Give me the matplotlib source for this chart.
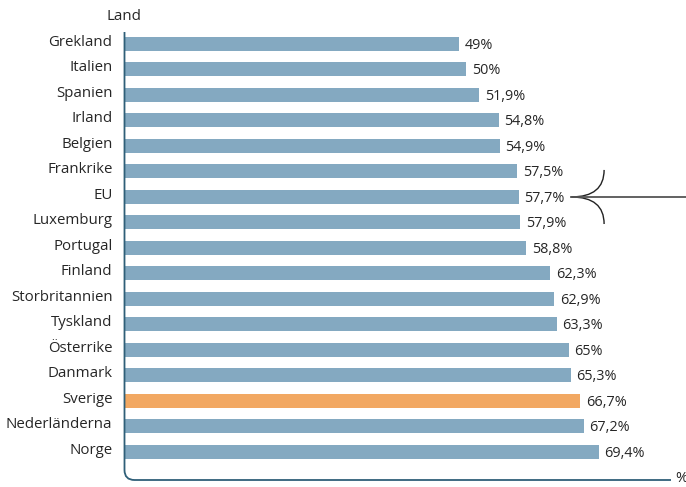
import matplotlib
matplotlib.use("Agg")
import matplotlib.pyplot as plt
import matplotlib.transforms as mtransforms
from matplotlib.path import Path
from matplotlib.patches import PathPatch

# data
laender = ["Grekland", "Italien", "Spanien", "Irland", "Belgien", "Frankrike", "EU",
           "Luxemburg", "Portugal", "Finland", "Storbritannien", "Tyskland",
           "Österrike", "Danmark", "Sverige", "Nederländerna", "Norge"]
werte = [49, 50, 51.9, 54.8, 54.9, 57.5, 57.7, 57.9, 58.8, 62.3, 62.9, 63.3,
         65, 65.3, 66.7, 67.2, 69.4]
labels = ["49%", "50%", "51,9%", "54,8%", "54,9%", "57,5%", "57,7%", "57,9%",
          "58,8%", "62,3%", "62,9%", "63,3%", "65%", "65,3%", "66,7%", "67,2%", "69,4%"]
hervorheben = "Sverige"
markiert = "EU"

blau = "#84a9c1"
orange = "#f2a862"
achse = "#2f5f78"
textfarbe = "#262626"

plt.rcParams["font.family"] = ["Open Sans", "DejaVu Sans"]

W, H = 686, 487
fig = plt.figure(figsize=(W / 100, H / 100), dpi=100)
# axes in pixel: links 125, rechts 671, oben 32, unten 480
ax = fig.add_axes([125 / W, 1 - 480 / H, (671 - 125) / W, (480 - 32) / H])

pos = list(range(len(laender)))
farben = [orange if l == hervorheben else blau for l in laender]
ax.barh(pos, werte, height=0.55, color=farben)
ax.set_xlim(0, 80)
ax.set_ylim(len(laender) - 1 + 1.1, -0.47)

for p, w, t in zip(pos, werte, labels):
    ax.text(w + 0.8, p + 0.05, t, va="center", ha="left", fontsize=10.4, color=textfarbe)

ax.set_yticks(pos)
ax.set_yticklabels(laender, fontsize=10.8, color=textfarbe)
ax.tick_params(axis="y", length=0, pad=9)
ax.set_xticks([])
# beschriftung leicht nach oben
hoch = mtransforms.ScaledTranslation(0, 0.035, fig.dpi_scale_trans)
for lab in ax.get_yticklabels():
    lab.set_transform(lab.get_transform() + hoch)
for s in ax.spines.values():
    s.set_visible(False)

# achse mit abgerundeter ecke (pixel)
pix = mtransforms.Affine2D().scale(1 / W, -1 / H).translate(0, 1) + fig.transFigure
r = 10
verts = [(124.5, 32), (124.5, 480 - r), (124.5, 480), (124.5 + r, 480), (671, 480)]
codes = [Path.MOVETO, Path.LINETO, Path.CURVE3, Path.CURVE3, Path.LINETO]
fig.patches.append(PathPatch(Path(verts, codes), transform=pix, fill=False,
                             edgecolor=achse, lw=1.3))
fig.text(675 / W, 1 - 479 / H, "%", fontsize=10.8, color=textfarbe, va="center", ha="left")
fig.text(124 / W, 1 - 16 / H, "Land", fontsize=10.8, color=textfarbe, va="center", ha="center")

# pfeil zum EU-balken
i = laender.index(markiert)
spitze = (65.4, i)
for dy in (-1.06, 1.06):
    v = [(70.2, i + dy), (70.2, i), spitze]
    ax.add_patch(PathPatch(Path(v, [Path.MOVETO, Path.CURVE3, Path.CURVE3]),
                           fill=False, edgecolor="#222222", lw=1, clip_on=False))
ax.plot([65.4, 83], [i, i], color="#555555", lw=1.3, clip_on=False)

fig.savefig("out.png", dpi=100)
